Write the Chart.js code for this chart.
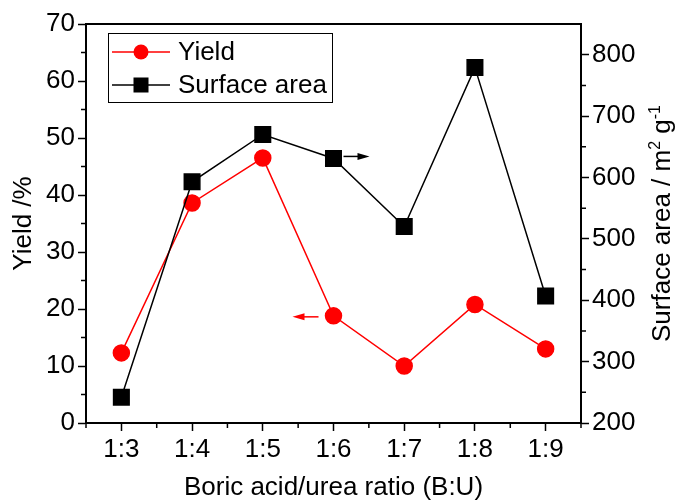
<!DOCTYPE html>
<html>
<head>
<meta charset="utf-8">
<script src="https://cdn.jsdelivr.net/npm/chart.js@4.4.0/dist/chart.umd.min.js"></script>
<style>
    html, body { margin: 0; padding: 0; background: #fff; }
</style>
</head>
<body>
<canvas id="ratio_canvas" width="675" height="502"></canvas>
<script>
// Data
var ratios = ["1:3", "1:4", "1:5", "1:6", "1:7", "1:8", "1:9"];
var yieldValues = [12.3, 38.6, 46.5, 18.8, 10.0, 20.8, 13.0];
var surfaceValues = [242, 593, 670, 631, 520, 779, 407];
var yieldTicks = [0, 10, 20, 30, 40, 50, 60, 70];
var surfaceTicks = [200, 300, 400, 500, 600, 700, 800];
var legendLabels = ["Yield", "Surface area"];

var fontFamily = "'Liberation Sans', Arial, sans-serif";
var fontSize = 26;

// Extra drawing: top frame, minor ticks, arrows, legend, right title
var extrasPlugin = {
    id: "extras",
    afterDraw: function (chart) {
        var ctx = chart.ctx;
        var area = chart.chartArea;
        var x = chart.scales.x;
        var y = chart.scales.y;
        var y2 = chart.scales.y2;
        var i, v, p;

        ctx.save();
        ctx.strokeStyle = "black";
        ctx.lineWidth = 2;
        ctx.beginPath();
        ctx.moveTo(area.left - 1, area.top);
        ctx.lineTo(area.right + 1, area.top);
        ctx.stroke();

        // minor ticks
        ctx.lineWidth = 1.5;
        ctx.beginPath();
        for (v = 5; v < 70; v += 10) {
            p = y.getPixelForValue(v);
            ctx.moveTo(area.left, p);
            ctx.lineTo(area.left - 5, p);
        }
        for (v = 250; v < 850; v += 100) {
            p = y2.getPixelForValue(v);
            ctx.moveTo(area.right, p);
            ctx.lineTo(area.right + 5, p);
        }
        for (i = 0; i <= ratios.length; i++) {
            p = x.getPixelForValue(i - 0.5);
            ctx.moveTo(p, area.bottom);
            ctx.lineTo(p, area.bottom + 5);
        }
        ctx.stroke();

        // arrows pointing to the axis of each series (at 1:6)
        var ax = x.getPixelForValue(3);
        var ayBlack = y2.getPixelForValue(surfaceValues[3]) - 2;
        var ayRed = y.getPixelForValue(yieldValues[3]) + 1;
        drawArrow(ctx, ax + 10, ayBlack, ax + 36, ayBlack, "black");
        drawArrow(ctx, ax - 15, ayRed, ax - 41, ayRed, "#ff0000");

        // legend
        var lx = area.left + 22;
        var ly = area.top + 9;
        ctx.lineWidth = 1;
        ctx.strokeStyle = "black";
        ctx.strokeRect(lx + 0.5, ly + 0.5, 224, 69);
        ctx.font = "26px " + fontFamily;
        ctx.textBaseline = "middle";
        ctx.fillStyle = "black";
        var rows = [
            { label: legendLabels[0], color: "#ff0000", style: "circle", cy: ly + 19 },
            { label: legendLabels[1], color: "black", style: "rect", cy: ly + 52 }
        ];
        rows.forEach(function (r) {
            ctx.strokeStyle = r.color;
            ctx.lineWidth = 1.5;
            ctx.beginPath();
            ctx.moveTo(lx + 4, r.cy);
            ctx.lineTo(lx + 62, r.cy);
            ctx.stroke();
            ctx.fillStyle = r.color;
            if (r.style === "circle") {
                ctx.beginPath();
                ctx.arc(lx + 33, r.cy, 7.5, 0, Math.PI * 2);
                ctx.fill();
            } else {
                ctx.fillRect(lx + 25.5, r.cy - 7.5, 15, 15);
            }
            ctx.fillStyle = "black";
            ctx.fillText(r.label, lx + 70, r.cy + 1);
        });

        // right axis title, reading upward with superscripts
        var parts = [
            { t: "Surface area / m", sup: false },
            { t: "2", sup: true },
            { t: " g", sup: false },
            { t: "-1", sup: true }
        ];
        var bigFont = fontSize + "px " + fontFamily;
        var smallFont = "16px " + fontFamily;
        var total = 0;
        parts.forEach(function (pt) {
            ctx.font = pt.sup ? smallFont : bigFont;
            pt.w = ctx.measureText(pt.t).width;
            total += pt.w;
        });
        ctx.translate(661, (area.top + area.bottom) / 2);
        ctx.rotate(-Math.PI / 2);
        ctx.textAlign = "left";
        ctx.textBaseline = "alphabetic";
        ctx.fillStyle = "black";
        var cx = -total / 2;
        parts.forEach(function (pt) {
            ctx.font = pt.sup ? smallFont : bigFont;
            ctx.fillText(pt.t, cx, pt.sup ? -1 : 9);
            cx += pt.w;
        });
        ctx.restore();
    }
};

function drawArrow(ctx, x0, y0, x1, y1, color) {
    var dir = x1 > x0 ? 1 : -1;
    ctx.strokeStyle = color;
    ctx.fillStyle = color;
    ctx.lineWidth = 1.5;
    ctx.beginPath();
    ctx.moveTo(x0, y0);
    ctx.lineTo(x1 - dir * 8, y1);
    ctx.stroke();
    ctx.beginPath();
    ctx.moveTo(x1, y1);
    ctx.lineTo(x1 - dir * 12, y1 - 3.5);
    ctx.lineTo(x1 - dir * 12, y1 + 3.5);
    ctx.closePath();
    ctx.fill();
}

var tickFont = { family: fontFamily, size: fontSize };

var ratioChart = new Chart(document.getElementById("ratio_canvas"), {
    type: "line",
    data: {
        labels: ratios,
        datasets: [
            {
                label: legendLabels[1],
                data: surfaceValues,
                yAxisID: "y2",
                borderColor: "black",
                backgroundColor: "black",
                borderWidth: 1.5,
                pointStyle: "rect",
                pointRadius: 11,
                pointHoverRadius: 11,
                tension: 0,
            },
            {
                label: legendLabels[0],
                data: yieldValues,
                yAxisID: "y",
                borderColor: "#ff0000",
                backgroundColor: "#ff0000",
                borderWidth: 1.5,
                pointStyle: "circle",
                pointRadius: 8,
                pointHoverRadius: 8,
                tension: 0,
            },
        ],
    },
    options: {
        responsive: false,
        animation: false,
        layout: { padding: { top: 24, left: 0, right: 0, bottom: 0 } },
        plugins: {
            legend: { display: false },
            tooltip: { enabled: false },
        },
        scales: {
            x: {
                offset: true,
                grid: {
                    offset: false,
                    drawOnChartArea: false,
                    tickLength: 8,
                    tickWidth: 1.5,
                    tickColor: "black",
                },
                border: { color: "black", width: 2 },
                ticks: { color: "black", font: tickFont, padding: 3, maxRotation: 0 },
                title: {
                    display: true,
                    text: "Boric acid/urea ratio (B:U)",
                    color: "black",
                    font: { family: fontFamily, size: fontSize, lineHeight: 1.1 },
                    padding: 0,
                },
                afterFit: function (scale) { scale.height = 79; },
            },
            y: {
                position: "left",
                min: yieldTicks[0],
                max: yieldTicks[yieldTicks.length - 1],
                afterBuildTicks: function (scale) {
                    scale.ticks = yieldTicks.map(function (v) { return { value: v }; });
                },
                grid: {
                    drawOnChartArea: false,
                    tickLength: 8,
                    tickWidth: 1.5,
                    tickColor: "black",
                },
                border: { color: "black", width: 2 },
                ticks: { color: "black", font: tickFont, padding: 3 },
                title: {
                    display: true,
                    text: "Yield /%",
                    color: "black",
                    font: tickFont,
                    padding: { top: 8, bottom: 0 },
                },
                afterFit: function (scale) { scale.width = 86; },
            },
            y2: {
                position: "right",
                min: 200,
                max: 850,
                afterBuildTicks: function (scale) {
                    scale.ticks = surfaceTicks.map(function (v) { return { value: v }; });
                },
                grid: {
                    drawOnChartArea: false,
                    tickLength: 8,
                    tickWidth: 1.5,
                    tickColor: "black",
                },
                border: { color: "black", width: 2 },
                ticks: { color: "black", font: tickFont, padding: 3 },
                afterFit: function (scale) { scale.width = 94; },
            },
        },
    },
    plugins: [extrasPlugin],
});
</script>
</body>
</html>
